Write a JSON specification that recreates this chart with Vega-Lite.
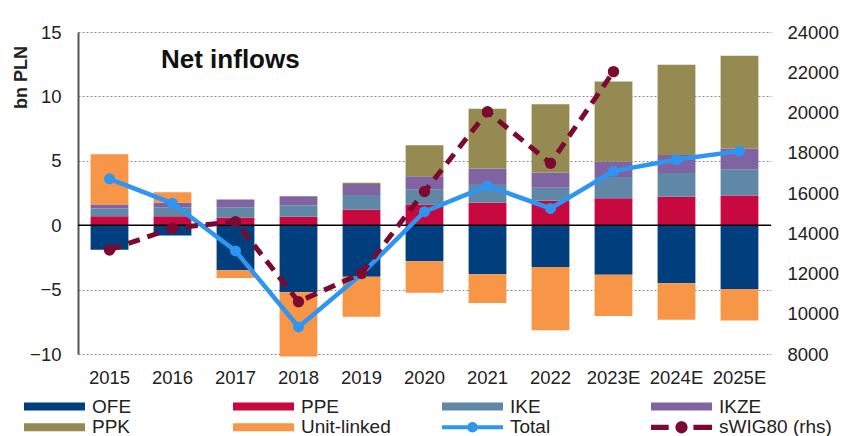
{
  "$schema": "https://vega.github.io/schema/vega-lite/v6.json",
  "width": 693,
  "height": 322,
  "autosize": {"type": "none"},
  "padding": {"left": 78, "top": 32, "right": 74, "bottom": 82},
  "background": "white",
  "config": {
    "view": {"stroke": null},
    "font": "Liberation Sans",
    "axis": {"labelColor": "#222", "titleColor": "#222", "labelFont": "Liberation Sans", "titleFont": "Liberation Sans"},
    "legend": {"labelFont": "Liberation Sans"}
  },
  "title": {
    "text": "Net inflows",
    "anchor": "start",
    "frame": "group",
    "offset": 0,
    "dx": 83,
    "dy": 71,
    "baseline": "alphabetic",
    "fontSize": 26,
    "fontWeight": "bold",
    "color": "#111",
    "font": "Liberation Sans"
  },
  "data": {
    "values": [
      {"year": "2015", "series": "OFE", "value": -1.9},
      {"year": "2015", "series": "PPE", "value": 0.7},
      {"year": "2015", "series": "IKE", "value": 0.6},
      {"year": "2015", "series": "IKZE", "value": 0.3},
      {"year": "2015", "series": "PPK", "value": 0},
      {"year": "2015", "series": "Unit-linked", "value": 3.9},
      {"year": "2015", "series": "Total", "value": 3.6},
      {"year": "2015", "series": "sWIG80 (rhs)", "value": 13170},
      {"year": "2016", "series": "OFE", "value": -0.8},
      {"year": "2016", "series": "PPE", "value": 0.7},
      {"year": "2016", "series": "IKE", "value": 0.7},
      {"year": "2016", "series": "IKZE", "value": 0.35},
      {"year": "2016", "series": "PPK", "value": 0},
      {"year": "2016", "series": "Unit-linked", "value": 0.8},
      {"year": "2016", "series": "Total", "value": 1.7},
      {"year": "2016", "series": "sWIG80 (rhs)", "value": 14250},
      {"year": "2017", "series": "OFE", "value": -3.5},
      {"year": "2017", "series": "PPE", "value": 0.6},
      {"year": "2017", "series": "IKE", "value": 0.8},
      {"year": "2017", "series": "IKZE", "value": 0.6},
      {"year": "2017", "series": "PPK", "value": 0},
      {"year": "2017", "series": "Unit-linked", "value": -0.6},
      {"year": "2017", "series": "Total", "value": -2.0},
      {"year": "2017", "series": "sWIG80 (rhs)", "value": 14580},
      {"year": "2018", "series": "OFE", "value": -5.2},
      {"year": "2018", "series": "PPE", "value": 0.65},
      {"year": "2018", "series": "IKE", "value": 0.9},
      {"year": "2018", "series": "IKZE", "value": 0.7},
      {"year": "2018", "series": "PPK", "value": 0},
      {"year": "2018", "series": "Unit-linked", "value": -5.0},
      {"year": "2018", "series": "Total", "value": -7.9},
      {"year": "2018", "series": "sWIG80 (rhs)", "value": 10600},
      {"year": "2019", "series": "OFE", "value": -4.0},
      {"year": "2019", "series": "PPE", "value": 1.2},
      {"year": "2019", "series": "IKE", "value": 1.15},
      {"year": "2019", "series": "IKZE", "value": 0.85},
      {"year": "2019", "series": "PPK", "value": 0.1},
      {"year": "2019", "series": "Unit-linked", "value": -3.1},
      {"year": "2019", "series": "Total", "value": -3.8},
      {"year": "2019", "series": "sWIG80 (rhs)", "value": 12010},
      {"year": "2020", "series": "OFE", "value": -2.8},
      {"year": "2020", "series": "PPE", "value": 1.6},
      {"year": "2020", "series": "IKE", "value": 1.15},
      {"year": "2020", "series": "IKZE", "value": 1.05},
      {"year": "2020", "series": "PPK", "value": 2.4},
      {"year": "2020", "series": "Unit-linked", "value": -2.45},
      {"year": "2020", "series": "Total", "value": 1.05},
      {"year": "2020", "series": "sWIG80 (rhs)", "value": 16070},
      {"year": "2021", "series": "OFE", "value": -3.8},
      {"year": "2021", "series": "PPE", "value": 1.75},
      {"year": "2021", "series": "IKE", "value": 1.45},
      {"year": "2021", "series": "IKZE", "value": 1.2},
      {"year": "2021", "series": "PPK", "value": 4.65},
      {"year": "2021", "series": "Unit-linked", "value": -2.25},
      {"year": "2021", "series": "Total", "value": 3.05},
      {"year": "2021", "series": "sWIG80 (rhs)", "value": 20040},
      {"year": "2022", "series": "OFE", "value": -3.25},
      {"year": "2022", "series": "PPE", "value": 1.9},
      {"year": "2022", "series": "IKE", "value": 1.0},
      {"year": "2022", "series": "IKZE", "value": 1.2},
      {"year": "2022", "series": "PPK", "value": 5.3},
      {"year": "2022", "series": "Unit-linked", "value": -4.9},
      {"year": "2022", "series": "Total", "value": 1.3},
      {"year": "2022", "series": "sWIG80 (rhs)", "value": 17480},
      {"year": "2023E", "series": "OFE", "value": -3.85},
      {"year": "2023E", "series": "PPE", "value": 2.1},
      {"year": "2023E", "series": "IKE", "value": 1.65},
      {"year": "2023E", "series": "IKZE", "value": 1.2},
      {"year": "2023E", "series": "PPK", "value": 6.2},
      {"year": "2023E", "series": "Unit-linked", "value": -3.2},
      {"year": "2023E", "series": "Total", "value": 4.2},
      {"year": "2023E", "series": "sWIG80 (rhs)", "value": 22030},
      {"year": "2024E", "series": "OFE", "value": -4.5},
      {"year": "2024E", "series": "PPE", "value": 2.2},
      {"year": "2024E", "series": "IKE", "value": 1.85},
      {"year": "2024E", "series": "IKZE", "value": 1.4},
      {"year": "2024E", "series": "PPK", "value": 7.0},
      {"year": "2024E", "series": "Unit-linked", "value": -2.85},
      {"year": "2024E", "series": "Total", "value": 5.1},
      {"year": "2025E", "series": "OFE", "value": -4.95},
      {"year": "2025E", "series": "PPE", "value": 2.3},
      {"year": "2025E", "series": "IKE", "value": 2.05},
      {"year": "2025E", "series": "IKZE", "value": 1.6},
      {"year": "2025E", "series": "PPK", "value": 7.2},
      {"year": "2025E", "series": "Unit-linked", "value": -2.45},
      {"year": "2025E", "series": "Total", "value": 5.75}
    ]
  },
  "encoding": {
    "color": {
      "field": "series",
      "type": "nominal",
      "scale": {
        "domain": ["OFE", "PPK", "PPE", "Unit-linked", "IKE", "Total", "IKZE", "sWIG80 (rhs)"],
        "range": ["#003E7E", "#958B52", "#C8093F", "#F79646", "#5E88A5", "#2F95F2", "#8064A2", "#7B0A2E"]
      },
      "legend": {
        "orient": "none",
        "legendX": -54,
        "legendY": 364,
        "columns": 4,
        "title": null,
        "gridAlign": "all",
        "columnPadding": 28,
        "rowPadding": 0,
        "clipHeight": 20.6,
        "symbolSize": 3721,
        "labelFontSize": 19,
        "labelOffset": 7,
        "labelColor": "#222",
        "encode": {
          "symbols": {
            "update": {
              "shape": {"signal": "datum.value === 'Total' ? 'M-1,-0.066H1V0.066H-1Z M-0.17,0A0.17,0.17 0 1,1 0.17,0A0.17,0.17 0 1,1 -0.17,0Z' : datum.value === 'sWIG80 (rhs)' ? 'M-1,-0.085H-0.42V0.085H-1Z M0.39,-0.085H1V0.085H0.39Z M-0.2,0A0.2,0.2 0 1,1 0.2,0A0.2,0.2 0 1,1 -0.2,0Z' : 'M-1,-0.13H1V0.13H-1Z'"},
              "fill": {"scale": "color", "field": "value"},
              "fillOpacity": {"value": 1},
              "opacity": {"value": 1},
              "strokeWidth": {"value": 0}
            }
          }
        }
      }
    }
  },
  "layer": [
    {
      "layer": [
        {
          "transform": [
            {"filter": "indexof(['OFE','PPE','IKE','IKZE','PPK','Unit-linked'], datum.series) >= 0"},
            {"calculate": "indexof(['OFE','PPE','IKE','IKZE','PPK','Unit-linked'], datum.series)", "as": "ord"}
          ],
          "mark": {"type": "bar"},
          "encoding": {
            "x": {
              "field": "year",
              "type": "ordinal",
              "scale": {"paddingInner": 0.4, "paddingOuter": 0.2},
              "axis": {"title": null, "labelAngle": 0, "domain": false, "ticks": false, "labelPadding": 14, "labelFontSize": 18.5, "grid": false}
            },
            "y": {
              "field": "value",
              "type": "quantitative",
              "stack": "zero",
              "scale": {"domain": [-10, 15], "nice": false, "zero": false},
              "axis": {
                "values": [-10, -5, 0, 5, 10, 15],
                "title": "bn PLN",
                "titleFontSize": 18,
                "titleFontWeight": "bold",
                "titleAngle": -90,
                "titleAlign": "center",
                "titleBaseline": "middle",
                "titleX": -57,
                "titleY": 45,
                "grid": true,
                "gridDash": [2, 2],
                "gridColor": "#8a8a8a",
                "gridWidth": 1,
                "domainColor": "#555",
                "domainWidth": 2,
                "ticks": false,
                "labelPadding": 17,
                "labelFontSize": 18.5
              }
            },
            "order": {"field": "ord", "type": "quantitative"}
          }
        },
        {
          "data": {"values": [{}]},
          "mark": {"type": "rule", "color": "#000", "strokeWidth": 1.5},
          "encoding": {"y": {"datum": 0, "type": "quantitative"}, "color": {"value": "#000"}}
        },
        {
          "transform": [{"filter": "datum.series === 'Total'"}],
          "mark": {"type": "line", "strokeWidth": 4.5, "point": {"filled": true, "size": 120, "opacity": 1}},
          "encoding": {
            "x": {"field": "year", "type": "ordinal"},
            "y": {"field": "value", "type": "quantitative"}
          }
        }
      ]
    },
    {
      "transform": [{"filter": "datum.series === 'sWIG80 (rhs)'"}],
      "mark": {"type": "line", "strokeWidth": 5, "strokeDash": [12, 8], "point": {"filled": true, "size": 130, "opacity": 1}},
      "encoding": {
        "x": {"field": "year", "type": "ordinal"},
        "y": {
          "field": "value",
          "type": "quantitative",
          "scale": {"domain": [8000, 24000], "nice": false, "zero": false},
          "axis": {
            "orient": "right",
            "values": [8000, 10000, 12000, 14000, 16000, 18000, 20000, 22000, 24000],
            "format": "d",
            "title": null,
            "grid": false,
            "domain": false,
            "ticks": false,
            "labelPadding": 16,
            "labelFontSize": 18.5
          }
        }
      }
    }
  ],
  "resolve": {"scale": {"y": "independent"}}
}
